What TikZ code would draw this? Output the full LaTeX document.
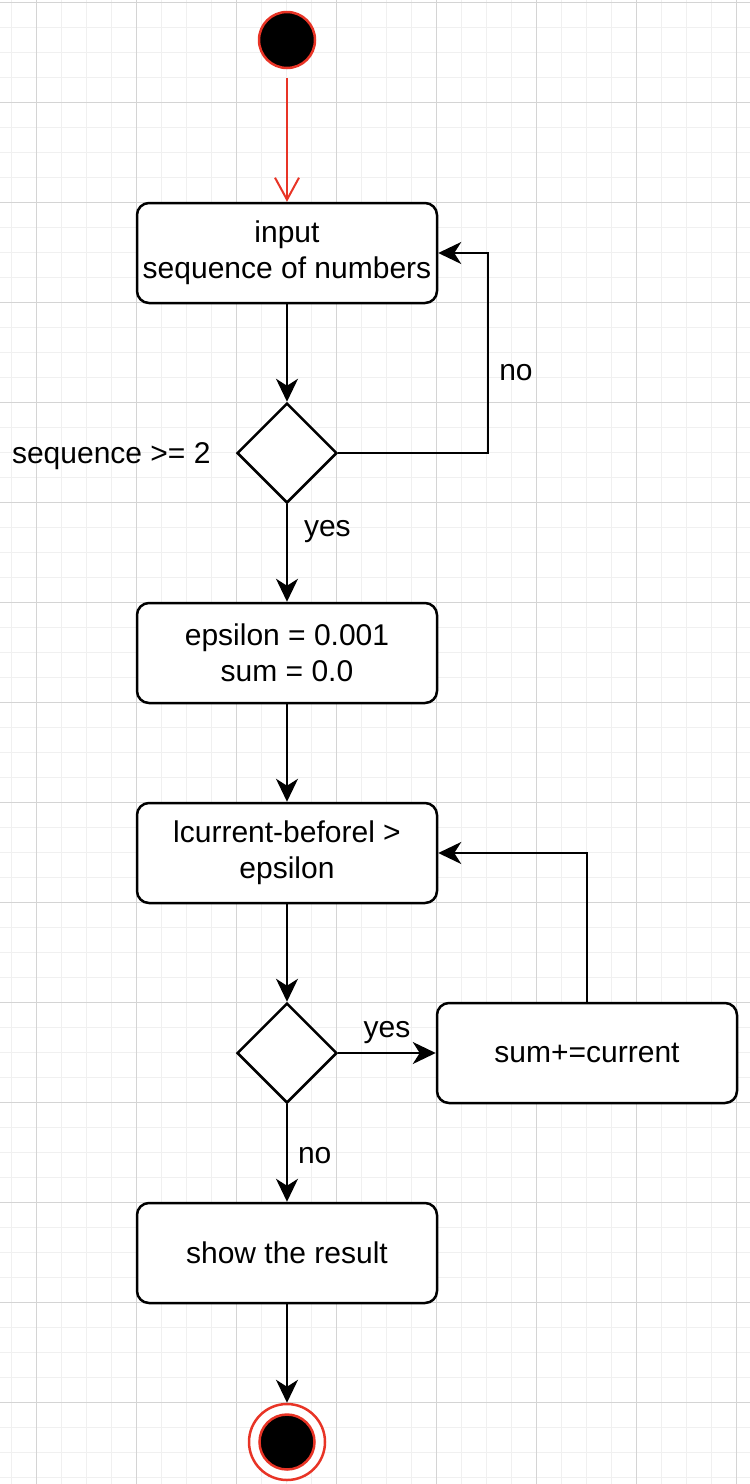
\documentclass[tikz,border=0pt]{standalone}
\usepackage{fontspec}
\setmainfont{Liberation Sans}
\usetikzlibrary{arrows.meta,shapes,positioning}
\definecolor{umlred}{RGB}{232,52,38}
\definecolor{gridminor}{RGB}{240,240,240}
\definecolor{gridmajor}{RGB}{212,212,212}
\tikzstyle{arrow} = [line width=2pt,-{Stealth[length=23pt,width=22pt,inset=7pt]}]
\tikzstyle{action} = [rectangle, rounded corners=12pt, minimum width=300pt, minimum height=100pt, text centered, align=center, draw=black, fill=white, line width=2.5pt]
\tikzstyle{decision} = [diamond, minimum width=100pt, minimum height=100pt, inner sep=0pt, draw=black, fill=white, line width=2.5pt]
\tikzstyle{lbl} = [inner sep=0pt]

\begin{document}
\begin{tikzpicture}[x=1pt, y=-1pt, font=\fontsize{30}{36}\selectfont]
\useasboundingbox (0,0) rectangle (750,1484);

% Grid
\foreach \gx in {11.5,36.5,...,750} \draw[gridminor, line width=1pt] (\gx,0) -- (\gx,1484);
\foreach \gy in {2.5,27.5,...,1484} \draw[gridminor, line width=1pt] (0,\gy) -- (750,\gy);
\foreach \gx in {36.5,136.5,...,750} \draw[gridmajor, line width=1pt] (\gx,0) -- (\gx,1484);
\foreach \gy in {2.5,102.5,...,1484} \draw[gridmajor, line width=1pt] (0,\gy) -- (750,\gy);

% Start
\node[circle, minimum size=56pt, inner sep=0pt, draw=umlred, fill=black, line width=2.5pt] (start) at (287,40) {};

% Actions and decisions
\node[action] (in1) at (287,253) {input\\sequence of numbers};
\node[decision] (d1) at (287,453) {};
\node[lbl, left=25pt of d1, yshift=-3pt] (cond) {sequence >= 2};
\node[action] (init) at (287,653) {epsilon = 0.001\\sum = 0.0};
\node[action] (cmp) at (287,853) {lcurrent-beforel >\\epsilon};
\node[decision] (d2) at (287,1053) {};
\node[action] (sum) at (587,1053) {sum+=current};
\node[action] (res) at (287,1253) {show the result};

% Final
\node[circle, minimum size=76pt, inner sep=0pt, draw=umlred, fill=white, line width=2.5pt,
  path picture={\draw[umlred, fill=black, line width=2.5pt] (path picture bounding box.center) circle (27.5pt);}] (final) at (287,1442) {};

% Flow
\draw[line width=2pt, draw=umlred, -{Straight Barb[length=22pt,width=24pt]}, shorten <=9pt] (start) -- (in1);
\draw[arrow] (in1) -- (d1);
\draw[arrow] (d1.east) -- ++(150,0) |- node[lbl, pos=0.2, right=10pt] {no} (in1.east);
\draw[arrow] (d1) -- node[lbl, pos=0.28, right=16pt] {yes} (init);
\draw[arrow] (init) -- (cmp);
\draw[arrow] (cmp) -- (d2);
\draw[arrow] (d2) -- node[lbl, above=8pt] {yes} (sum);
\draw[arrow] (sum.north) |- (cmp.east);
\draw[arrow] (d2) -- node[lbl, pos=0.53, right=10pt] {no} (res);
\draw[arrow] (res) -- (final);
\end{tikzpicture}
\end{document}
